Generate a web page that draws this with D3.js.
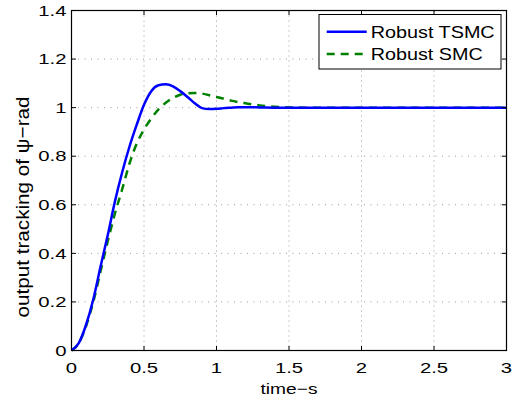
<!DOCTYPE html>
<html><head><meta charset="utf-8">
<script src="https://cdn.jsdelivr.net/npm/d3@7"></script>
<style>html,body{margin:0;padding:0;background:#fff;}svg{display:block;}text{font-family:"Liberation Sans",Arial,sans-serif;fill:#000;}</style>
</head><body>
<script>
const time = [0,0.05,0.1,0.15,0.2,0.25,0.3,0.35,0.4,0.45,0.5,0.55,0.6,0.65,0.7,0.75,0.8,0.85,0.9,0.95,1.0,1.05,1.1,1.15,1.2,1.3,1.4,1.5,1.6,2.0,2.5,3.0];
const tsmc = [0,0.03,0.105,0.21,0.345,0.475,0.615,0.735,0.84,0.93,1.012,1.068,1.092,1.096,1.088,1.068,1.044,1.018,0.998,0.994,0.995,0.998,1.0,1.002,1.002,1.001,1.0,1.0,1.0,1.0,1.0,1.0];
const smc  = [0,0.03,0.10,0.20,0.325,0.45,0.565,0.665,0.77,0.852,0.91,0.955,0.993,1.02,1.04,1.053,1.059,1.06,1.058,1.051,1.044,1.037,1.029,1.023,1.018,1.009,1.004,1.001,1.0,1.0,1.0,1.0];
const seriesNames = ["Robust TSMC","Robust SMC"];
const xTicks = [0,0.5,1,1.5,2,2.5,3];
const yTicks = [0,0.2,0.4,0.6,0.8,1,1.2,1.4];
const xLabel = "time\u2212s";
const yLabel = "output tracking of \u03c8\u2212rad";

const W=512,H=402;
const L=71.5,R=506.5,T=10.5,B=350.5;
const svg=d3.select("body").append("svg").attr("width",W).attr("height",H);
const x=d3.scaleLinear().domain([0,3]).range([L,R]);
const y=d3.scaleLinear().domain([0,1.4]).range([B,T]);

// grid
svg.append("g").selectAll("line").data(xTicks.slice(1,-1)).join("line")
  .attr("x1",d=>x(d)).attr("x2",d=>x(d)).attr("y1",T).attr("y2",B)
  .attr("stroke","#999").attr("stroke-width",1).attr("stroke-dasharray","1,4");
svg.append("g").selectAll("line").data(yTicks.slice(1,-1)).join("line")
  .attr("y1",d=>y(d)).attr("y2",d=>y(d)).attr("x1",L).attr("x2",R)
  .attr("stroke","#999").attr("stroke-width",1).attr("stroke-dasharray","1,5.5");

// lines
const pts = v => time.map((t,i)=>[t,v[i]]);
const line=d3.line().x(d=>x(d[0])).y(d=>y(d[1])).curve(d3.curveMonotoneX);
svg.append("path").datum(pts(smc)).attr("d",line).attr("fill","none")
  .attr("stroke","#008000").attr("stroke-width",2.5).attr("stroke-dasharray","8,6");
svg.append("path").datum(pts(tsmc)).attr("d",line).attr("fill","none")
  .attr("stroke","#0000ff").attr("stroke-width",2.5);

// frame and ticks
svg.append("rect").attr("x",L).attr("y",T).attr("width",R-L).attr("height",B-T)
  .attr("fill","none").attr("stroke","#000").attr("stroke-width",1.2);
const tl=4.5;
const tk=svg.append("g").attr("stroke","#000").attr("stroke-width",1);
xTicks.forEach(d=>{
  tk.append("line").attr("x1",x(d)).attr("x2",x(d)).attr("y1",B).attr("y2",B-tl);
  tk.append("line").attr("x1",x(d)).attr("x2",x(d)).attr("y1",T).attr("y2",T+tl);
});
yTicks.forEach(d=>{
  tk.append("line").attr("y1",y(d)).attr("y2",y(d)).attr("x1",L).attr("x2",L+tl);
  tk.append("line").attr("y1",y(d)).attr("y2",y(d)).attr("x1",R).attr("x2",R-tl);
});
const fmt=d=>String(d);
const sx=1.4, fs=14.5;
svg.append("g").selectAll("text").data(xTicks).join("text")
  .attr("transform",d=>`translate(${x(d)},${373}) scale(${sx},1)`)
  .attr("text-anchor","middle").attr("font-size",fs).text(fmt);
svg.append("g").selectAll("text").data(yTicks).join("text")
  .attr("transform",d=>`translate(${66.5},${y(d)+5.2}) scale(${sx},1)`)
  .attr("text-anchor","end").attr("font-size",fs).text(fmt);

// axis labels
svg.append("text").attr("x",289).attr("y",394).attr("text-anchor","middle")
  .attr("font-size",15).attr("textLength",57).attr("lengthAdjust","spacingAndGlyphs").text(xLabel);
svg.append("text").attr("transform","translate(29,207) rotate(-90)").attr("text-anchor","middle")
  .attr("font-size",19).attr("textLength",221).attr("lengthAdjust","spacingAndGlyphs").text(yLabel);

// legend
const lg=svg.append("g");
lg.append("rect").attr("x",319).attr("y",14.5).attr("width",182).attr("height",54.5)
  .attr("fill","#fff").attr("stroke","#000").attr("stroke-width",1);
const rows=[{c:"#0000ff",d:null,w:124},{c:"#008000",d:"8,6",w:112}];
rows.forEach((r,i)=>{
  const yy=[31.7,54][i];
  lg.append("line").attr("x1",326.7).attr("x2",366.7).attr("y1",yy).attr("y2",yy)
    .attr("stroke",r.c).attr("stroke-width",2.5).attr("stroke-dasharray",r.d);
  lg.append("text").attr("x",370.7).attr("y",yy+6).attr("font-size",17)
    .attr("textLength",r.w).attr("lengthAdjust","spacingAndGlyphs").text(seriesNames[i]);
});
</script>
</body></html>
